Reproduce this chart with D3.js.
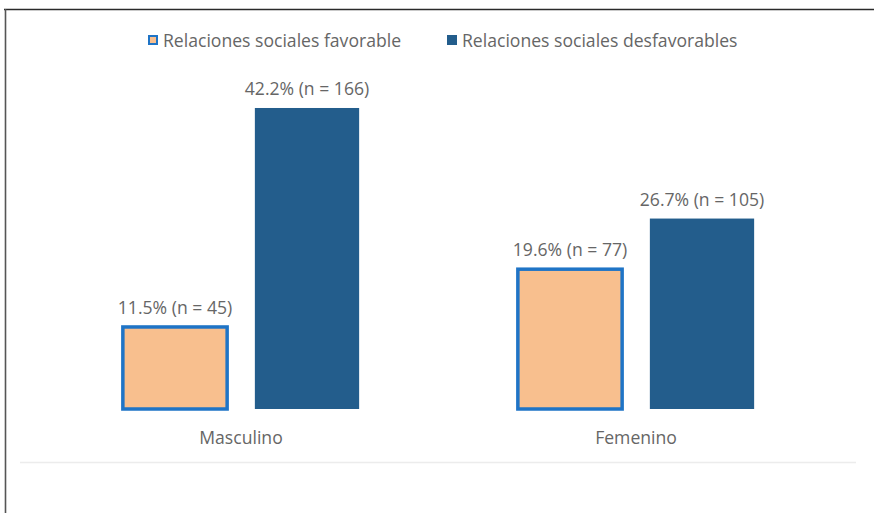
<!DOCTYPE html>
<html>
<head>
<meta charset="utf-8">
<script src="https://cdn.jsdelivr.net/npm/d3@7"></script>
<style>
  html, body { margin: 0; padding: 0; background: #fff; }
  svg { display: block; font-family: "Open Sans", Lato, sans-serif; }
</style>
</head>
<body>
<svg id="chart" width="874" height="513"></svg>
<script>
const categories = ["Masculino", "Femenino"];
const seriesNames = ["Relaciones sociales favorable", "Relaciones sociales desfavorables"];
const favorablePct = [11.5, 19.6];
const favorableN = [45, 77];
const desfavorablePct = [42.2, 26.7];
const desfavorableN = [166, 105];

const colors = { fill: ["#f8bf8e", "#235d8c"], stroke: ["#1f74c6", "none"] };

const data = categories.map((c, i) => ({
  category: c,
  values: [
    { series: seriesNames[0], pct: favorablePct[i], n: favorableN[i], idx: 0 },
    { series: seriesNames[1], pct: desfavorablePct[i], n: desfavorableN[i], idx: 1 }
  ]
}));

const svg = d3.select("#chart");
const textColor = "#666666";
const fontSize = 17.6;

// frame
svg.append("line").attr("x1", 4).attr("x2", 874).attr("y1", 9.5).attr("y2", 9.5)
  .attr("stroke", "#2a2a2a").attr("stroke-width", 1.6);
svg.append("line").attr("x1", 5.5).attr("x2", 5.5).attr("y1", 9).attr("y2", 513)
  .attr("stroke", "#555").attr("stroke-width", 1.6);

const baseline = 409;
const y = d3.scaleLinear().domain([0, 45]).range([baseline, baseline - 45 * 7.133]);

const x0 = d3.scaleBand().domain(categories).range([43.5, 833.5]).padding(0);
const x1 = d3.scaleBand().domain(seriesNames).range([-132, 132]).paddingInner(0.21).paddingOuter(0.105);

// faint bottom line
svg.append("line").attr("x1", 20).attr("x2", 856).attr("y1", 462.5).attr("y2", 462.5)
  .attr("stroke", "#ececec").attr("stroke-width", 1.5);

const groups = svg.selectAll("g.grp").data(data).join("g")
  .attr("class", "grp")
  .attr("transform", d => `translate(${x0(d.category) + x0.bandwidth() / 2},0)`);

groups.selectAll("rect").data(d => d.values).join("rect")
  .attr("x", d => x1(d.series))
  .attr("width", x1.bandwidth())
  .attr("y", d => y(d.pct))
  .attr("height", d => y(0) - y(d.pct))
  .attr("fill", d => colors.fill[d.idx])
  .attr("stroke", d => colors.stroke[d.idx])
  .attr("stroke-width", 3.5);

groups.selectAll("text.lbl").data(d => d.values).join("text")
  .attr("class", "lbl")
  .attr("x", d => x1(d.series) + x1.bandwidth() / 2)
  .attr("y", d => y(d.pct) - 13)
  .attr("text-anchor", "middle")
  .attr("font-size", fontSize)
  .attr("fill", textColor)
  .text(d => `${d.pct.toFixed(1)}% (n = ${d.n})`);

// category axis labels
const xAxis = d3.axisBottom(x0).tickSize(0).tickPadding(0);
const axG = svg.append("g").attr("transform", `translate(0,${baseline})`).call(xAxis);
axG.select(".domain").remove();
axG.selectAll("text").attr("font-size", fontSize).attr("fill", textColor)
  .attr("font-family", "'Open Sans', Lato, sans-serif").attr("dy", 0).attr("y", 35);

// legend
const legendX = [148, 447];
const leg = svg.selectAll("g.leg").data(seriesNames).join("g")
  .attr("class", "leg")
  .attr("transform", (d, i) => `translate(${legendX[i]},35)`);
leg.append("rect").attr("x", (d, i) => i === 0 ? 1 : 0).attr("y", (d, i) => i === 0 ? 1 : 0)
  .attr("width", (d, i) => i === 0 ? 8 : 10).attr("height", (d, i) => i === 0 ? 8 : 10)
  .attr("fill", (d, i) => colors.fill[i])
  .attr("stroke", (d, i) => colors.stroke[i])
  .attr("stroke-width", 2);
leg.append("text").attr("x", 15).attr("y", 11.5)
  .attr("font-size", fontSize).attr("fill", textColor)
  .text(d => d);
</script>
</body>
</html>
